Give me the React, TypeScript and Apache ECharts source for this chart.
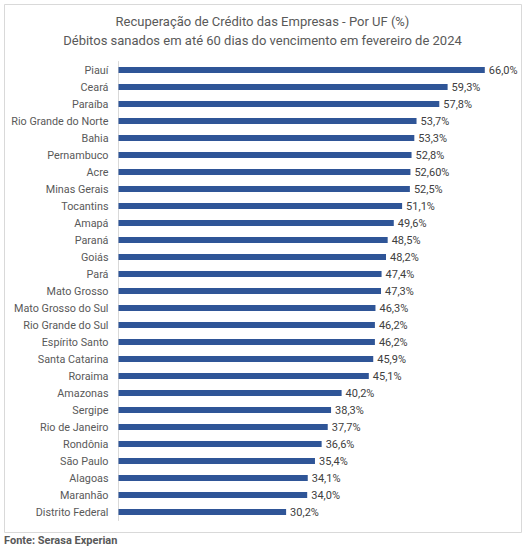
import React, { useEffect, useRef } from "react";
import * as echarts from "echarts";

const states = [
  "Piauí", "Ceará", "Paraíba", "Rio Grande do Norte", "Bahia", "Pernambuco", "Acre",
  "Minas Gerais", "Tocantins", "Amapá", "Paraná", "Goiás", "Pará", "Mato Grosso",
  "Mato Grosso do Sul", "Rio Grande do Sul", "Espírito Santo", "Santa Catarina", "Roraima",
  "Amazonas", "Sergipe", "Rio de Janeiro", "Rondônia", "São Paulo", "Alagoas", "Maranhão",
  "Distrito Federal",
];
const values = [
  66.0, 59.3, 57.8, 53.7, 53.3, 52.8, 52.6, 52.5, 51.1, 49.6, 48.5, 48.2, 47.4, 47.3,
  46.3, 46.2, 46.2, 45.9, 45.1, 40.2, 38.3, 37.7, 36.6, 35.4, 34.1, 34.0, 30.2,
];
const valueLabels = [
  "66,0%", "59,3%", "57,8%", "53,7%", "53,3%", "52,8%", "52,60%", "52,5%", "51,1%", "49,6%",
  "48,5%", "48,2%", "47,4%", "47,3%", "46,3%", "46,2%", "46,2%", "45,9%", "45,1%", "40,2%",
  "38,3%", "37,7%", "36,6%", "35,4%", "34,1%", "34,0%", "30,2%",
];
const titleLines = [
  "Recuperação de Crédito das Empresas - Por UF (%)",
  "Débitos sanados em até 60 dias do vencimento em fevereiro de 2024",
];
const sourceText = "Fonte: Serasa Experian";

export default function App() {
  const ref = useRef<HTMLDivElement>(null);
  useEffect(() => {
    if (!ref.current) return;
    const chart = echarts.init(ref.current, null, { renderer: "svg" });
    chart.setOption({
      animation: false,
      backgroundColor: "#ffffff",
      textStyle: { fontFamily: "Roboto" },
      title: {
        text: titleLines.join("\n"),
        left: "center",
        top: 7,
        textStyle: {
          fontFamily: "Roboto",
          fontSize: 13,
          fontWeight: "normal",
          color: "#595959",
          lineHeight: 19,
        },
      },
      graphic: [
        {
          type: "rect",
          shape: { x: 4.5, y: 4.5, width: 517, height: 528 },
          style: { fill: "none", stroke: "#d9d9d9", lineWidth: 1 },
          silent: true,
          z: -1,
        },
        {
          type: "text",
          left: 4,
          top: 535,
          style: {
            text: sourceText,
            fontFamily: "Roboto",
            fontSize: 11,
            fontWeight: "bold",
            fill: "#595959",
          },
        },
      ],
      grid: { left: 118.5, top: 61.5, width: 388.5, height: 459 },
      xAxis: {
        type: "value",
        min: 0,
        max: 70,
        show: false,
      },
      yAxis: {
        type: "category",
        data: states,
        inverse: true,
        axisLine: { show: true, lineStyle: { color: "#d9d9d9", width: 1 } },
        axisTick: { show: false },
        axisLabel: {
          color: "#595959",
          fontSize: 10.8,
          fontFamily: "Roboto",
          margin: 10,
        },
      },
      series: [
        {
          type: "bar",
          data: values,
          barWidth: 6,
          itemStyle: { color: "#2F5597" },
          label: {
            show: true,
            position: "right",
            distance: 4,
            color: "#404040",
            fontSize: 11,
            fontFamily: "Roboto",
            formatter: (p: any) => valueLabels[p.dataIndex],
          },
        },
      ],
    });
    return () => chart.dispose();
  }, []);
  return (
    <div
      ref={ref}
      style={{ position: "fixed", left: 0, top: 0, width: 525, height: 553 }}
    />
  );
}
